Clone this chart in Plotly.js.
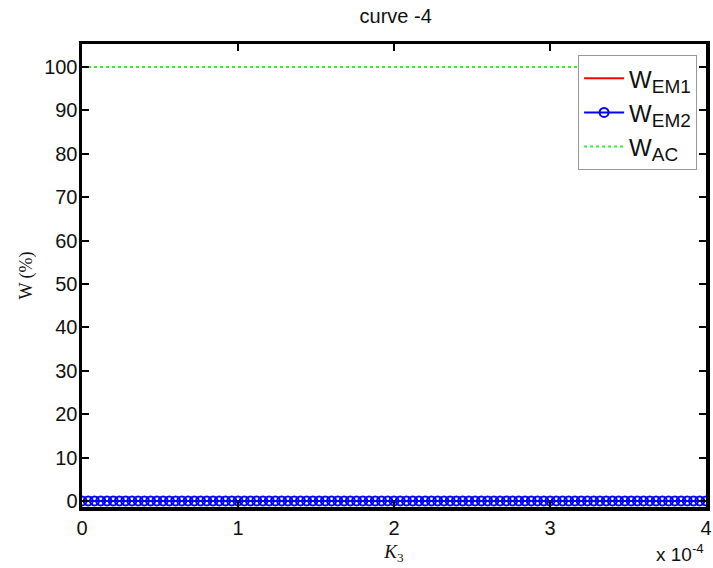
<!DOCTYPE html>
<html>
<head>
<meta charset="utf-8">
<script src="https://cdn.plot.ly/plotly-3.0.1.min.js"></script>
<style>html,body{margin:0;padding:0;background:#fff;}</style>
</head>
<body>
<div id="chart" style="width:713px;height:568px;"></div>
<script>
// K3 in units of 1e-4
var k3 = [
0,0.04,0.08,0.12,0.16,0.2,0.24,0.28,0.32,0.36,
0.4,0.44,0.48,0.52,0.56,0.6,0.64,0.68,0.72,0.76,
0.8,0.84,0.88,0.92,0.96,1,1.04,1.08,1.12,1.16,
1.2,1.24,1.28,1.32,1.36,1.4,1.44,1.48,1.52,1.56,
1.6,1.64,1.68,1.72,1.76,1.8,1.84,1.88,1.92,1.96,
2,2.04,2.08,2.12,2.16,2.2,2.24,2.28,2.32,2.36,
2.4,2.44,2.48,2.52,2.56,2.6,2.64,2.68,2.72,2.76,
2.8,2.84,2.88,2.92,2.96,3,3.04,3.08,3.12,3.16,
3.2,3.24,3.28,3.32,3.36,3.4,3.44,3.48,3.52,3.56,
3.6,3.64,3.68,3.72,3.76,3.8,3.84,3.88,3.92,3.96,
4];
var wEM1 = [
0,0,0,0,0,0,0,0,0,0, 0,0,0,0,0,0,0,0,0,0,
0,0,0,0,0,0,0,0,0,0, 0,0,0,0,0,0,0,0,0,0,
0,0,0,0,0,0,0,0,0,0, 0,0,0,0,0,0,0,0,0,0,
0,0,0,0,0,0,0,0,0,0, 0,0,0,0,0,0,0,0,0,0,
0,0,0,0,0,0,0,0,0,0, 0,0,0,0,0,0,0,0,0,0,
0];
var wEM2 = [
0,0,0,0,0,0,0,0,0,0, 0,0,0,0,0,0,0,0,0,0,
0,0,0,0,0,0,0,0,0,0, 0,0,0,0,0,0,0,0,0,0,
0,0,0,0,0,0,0,0,0,0, 0,0,0,0,0,0,0,0,0,0,
0,0,0,0,0,0,0,0,0,0, 0,0,0,0,0,0,0,0,0,0,
0,0,0,0,0,0,0,0,0,0, 0,0,0,0,0,0,0,0,0,0,
0];
var wAC = [
100,100,100,100,100,100,100,100,100,100, 100,100,100,100,100,100,100,100,100,100,
100,100,100,100,100,100,100,100,100,100, 100,100,100,100,100,100,100,100,100,100,
100,100,100,100,100,100,100,100,100,100, 100,100,100,100,100,100,100,100,100,100,
100,100,100,100,100,100,100,100,100,100, 100,100,100,100,100,100,100,100,100,100,
100,100,100,100,100,100,100,100,100,100, 100,100,100,100,100,100,100,100,100,100,
100];
var seriesNames = [
  'W<sub><span style="font-size:19px">EM1</span></sub>',
  'W<sub><span style="font-size:19px">EM2</span></sub>',
  'W<sub><span style="font-size:19px">AC</span></sub>'
];
var xTickVals = [0, 1, 2, 3, 4];
var xTickText = ['0', '1', '2', '3', '4'];
var yTickVals = [0, 10, 20, 30, 40, 50, 60, 70, 80, 90, 100];

var traces = [
  {x: k3, y: wEM1, name: seriesNames[0], mode: 'lines', line: {color: '#ff0000', width: 2}},
  {x: k3, y: wEM2, name: seriesNames[1], mode: 'lines+markers', line: {color: '#0000ff', width: 2},
   marker: {symbol: 'circle-open', size: 9, color: '#0000ff', line: {width: 2, color: '#0000ff'}}},
  {x: k3, y: wAC, name: seriesNames[2], mode: 'lines', line: {color: '#33ee33', width: 2, dash: 'dot'}}
];

var axisCommon = {
  showline: true, linecolor: '#000', linewidth: 3.5, mirror: 'ticks',
  ticks: 'inside', ticklen: 7, tickwidth: 2, tickcolor: '#000',
  showgrid: false, zeroline: false,
  tickfont: {family: 'Liberation Sans, Arial, sans-serif', size: 20, color: '#111'}
};

var layout = {
  width: 713, height: 568,
  margin: {l: 82, r: 7, t: 44, b: 61},
  paper_bgcolor: '#fff', plot_bgcolor: '#fff',
  title: {text: 'curve -4', x: 0.555, xanchor: 'center', y: 0.972, yanchor: 'middle',
          font: {family: 'Liberation Sans, Arial, sans-serif', size: 20, color: '#111'}},
  xaxis: Object.assign({}, axisCommon, {
    range: [0, 4], tickvals: xTickVals, ticktext: xTickText, ticklabeloverflow: 'allow',
    title: {text: '<i>K</i><sub>3</sub>', standoff: 8,
            font: {family: 'Liberation Serif, Times New Roman, serif', size: 19, color: '#111'}}
  }),
  yaxis: Object.assign({}, axisCommon, {
    range: [-1.4, 105.3], tickvals: yTickVals, ticklabelstandoff: -3,
    title: {text: 'W (%)', standoff: 8,
            font: {family: 'Liberation Serif, Times New Roman, serif', size: 18, color: '#111'}}
  }),
  showlegend: true,
  legend: {x: 0.795, y: 0.976, xanchor: 'left', yanchor: 'top',
           bgcolor: '#fff', bordercolor: '#999', borderwidth: 1,
           font: {family: 'Liberation Sans, Arial, sans-serif', size: 24, color: '#111'},
           itemwidth: 40, tracegroupgap: 0},
  annotations: [{
    text: 'x 10<sup>-4</sup>', xref: 'paper', yref: 'paper', x: 1.0, y: -0.13,
    xanchor: 'right', yanchor: 'bottom', showarrow: false,
    font: {family: 'Liberation Sans, Arial, sans-serif', size: 19, color: '#111'}
  }]
};

Plotly.newPlot('chart', traces, layout, {displayModeBar: false, staticPlot: true});
</script>
</body>
</html>
